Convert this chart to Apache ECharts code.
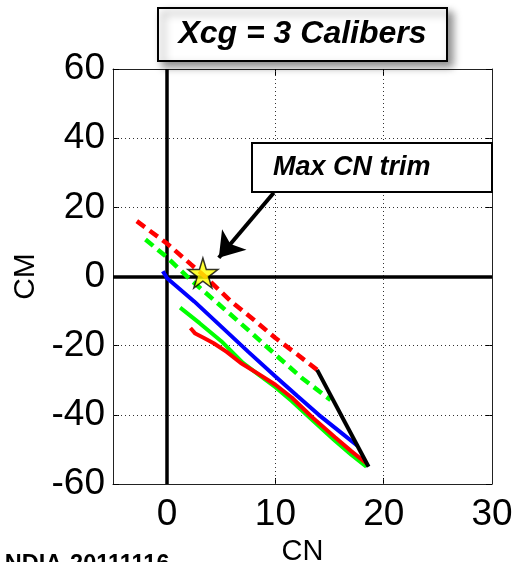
<!DOCTYPE html>
<html>
<head>
<meta charset="utf-8">
<script src="https://cdn.jsdelivr.net/npm/echarts@6/dist/echarts.min.js"></script>
<style>
  html, body { margin: 0; padding: 0; background: #fff; }
  #chart { width: 514px; height: 562px; }
</style>
</head>
<body>
<div id="chart"></div>
<script>
// CM vs CN curves, values as [CN, CM]
var redDashed = [[-2.8, 16], [0, 9.5], [2.2, 3.5], [3.5, 0], [5.9, -7.2], [8, -12.5], [10, -17.8], [12, -22.5], [13.85, -27]];
var greenDashed = [[-2, 10.7], [0, 5.5], [2.15, -0.9], [4.8, -8.1], [7.5, -15.5], [10, -22.6], [12.5, -29.5], [15.1, -35.7]];
var blueSolid = [[-0.4, 1.5], [0, -0.5], [2.5, -7.2], [5, -14.5], [7.5, -21.8], [10, -28.9], [12, -34.5], [14, -40], [16, -45], [17.6, -49]];
var greenSolid = [[1.2, -9], [3, -13.5], [5, -18.7], [7, -25], [8.5, -28.5], [10, -32], [11.5, -36], [13.5, -41.8], [15.5, -47.5], [17, -51.5], [18.4, -55]];
var redSolid = [[2.15, -14.9], [2.6, -16.5], [3.4, -17.8], [4.3, -19.3], [5.5, -21.8], [6.8, -25], [8.5, -28.3], [10, -31.3], [11.5, -35], [13.5, -41], [15.5, -46.5], [17, -50.5], [18.4, -54]];
var blackLine = [[13.85, -27], [18.6, -55]];
var trimPoint = [[3.3, 1.0]];
var arrowFrom = [9.85, 24.2];
var arrowTo = [4.77, 5.4];

var xTicks = [0, 10, 20, 30];
var yTicks = [-60, -40, -20, 0, 20, 40, 60];
var xGrid = [10, 20];
var yGrid = [-40, -20, 20, 40];

var titleText = 'Xcg = 3 Calibers';
var noteText = 'Max CN trim';
var footText = '-NDIA-20111116';

var font = 'Liberation Sans';
var star = 'path://M50,0 L61,35 L98,35 L68,57 L79,91 L50,70 L21,91 L32,57 L2,35 L39,35 Z';

var chart = echarts.init(document.getElementById('chart'));

var gridLines = [];
xGrid.forEach(function (v) { gridLines.push({ xAxis: v }); });
yGrid.forEach(function (v) { gridLines.push({ yAxis: v }); });

function curve(data, color, dashed) {
    return {
        type: 'line',
        data: data,
        showSymbol: false,
        symbol: 'none',
        smooth: false,
        z: 5,
        lineStyle: {
            color: color,
            width: dashed ? 4.5 : 4,
            type: dashed ? [10, 6] : 'solid',
            cap: 'butt'
        }
    };
}

chart.setOption({
    animation: false,
    grid: { left: 113, right: 22, top: 69, bottom: 78, outerBoundsMode: 'none', containLabel: false },
    xAxis: [{
        type: 'value',
        min: -5,
        max: 30,
        interval: 5,
        name: 'CN',
        nameLocation: 'middle',
        nameGap: 52,
        nameTextStyle: { fontFamily: font, fontSize: 29, color: '#000' },
        axisLine: { show: true, onZero: false, lineStyle: { color: '#222', width: 1 } },
        axisTick: { show: true, inside: true, length: 6, customValues: [0, 10, 20], lineStyle: { color: '#000' } },
        axisLabel: { customValues: xTicks, fontFamily: font, fontSize: 37, color: '#000', margin: 12 },
        splitLine: { show: false }
    }, {
        type: 'value',
        position: 'top',
        min: -5,
        max: 30,
        interval: 5,
        axisLine: { show: true, onZero: false, lineStyle: { color: '#222', width: 1 } },
        axisTick: { show: true, inside: true, length: 6, customValues: [0, 10, 20], lineStyle: { color: '#000' } },
        axisLabel: { show: false },
        splitLine: { show: false }
    }],
    yAxis: [{
        type: 'value',
        min: -60,
        max: 60,
        interval: 20,
        name: 'CM',
        nameLocation: 'middle',
        nameGap: 68,
        nameTextStyle: { fontFamily: font, fontSize: 30, color: '#000' },
        axisLine: { show: true, onZero: false, lineStyle: { color: '#222', width: 1 } },
        axisTick: { show: true, inside: true, length: 6, lineStyle: { color: '#000' } },
        axisLabel: { fontFamily: font, fontSize: 37, color: '#000', margin: 8 },
        splitLine: { show: false }
    }, {
        type: 'value',
        position: 'right',
        min: -60,
        max: 60,
        interval: 20,
        axisLine: { show: true, onZero: false, lineStyle: { color: '#222', width: 1 } },
        axisTick: { show: true, inside: true, length: 6, lineStyle: { color: '#000' } },
        axisLabel: { show: false },
        splitLine: { show: false }
    }],
    series: [
        {
            // dotted grid and the thick zero lines
            type: 'line',
            data: [],
            z: 1,
            markLine: {
                silent: true,
                symbol: ['none', 'none'],
                label: { show: false },
                lineStyle: { color: '#333', width: 1, type: [1, 3] },
                data: gridLines.concat([
                    { xAxis: 0, lineStyle: { color: '#000', width: 3.5, type: 'solid' } },
                    { yAxis: 0, lineStyle: { color: '#000', width: 3.5, type: 'solid' } }
                ])
            }
        },
        curve(redDashed, '#ff0000', true),
        curve(greenDashed, '#00ff00', true),
        curve(greenSolid, '#00ff00', false),
        curve(redSolid, '#ff0000', false),
        curve(blueSolid, '#0000ff', false),
        curve(blackLine, '#000000', false),
        {
            type: 'scatter',
            data: trimPoint,
            symbol: star,
            symbolSize: 30,
            z: 8,
            itemStyle: { color: '#ffff00', borderColor: '#000', borderWidth: 1.5 }
        },
        {
            type: 'line',
            data: [],
            z: 9,
            markLine: {
                silent: true,
                symbol: ['none', 'arrow'],
                symbolSize: 24,
                label: { show: false },
                lineStyle: { color: '#000', width: 4, type: 'solid' },
                data: [[{ coord: arrowFrom }, { coord: arrowTo }]]
            }
        }
    ],
    graphic: [
        {
            type: 'rect',
            shape: { x: 158, y: 8, width: 289, height: 53 },
            style: {
                fill: '#fff', stroke: '#000', lineWidth: 2,
                shadowBlur: 8, shadowColor: 'rgba(0,0,0,0.45)', shadowOffsetX: 5, shadowOffsetY: 5
            },
            z: 10
        },
        {
            type: 'text',
            x: 302.5,
            y: 34.5,
            style: {
                text: titleText, fill: '#000',
                font: 'italic bold 32px "Liberation Sans"',
                textAlign: 'center', textVerticalAlign: 'middle'
            },
            z: 11
        },
        {
            type: 'rect',
            shape: { x: 252, y: 143, width: 240, height: 49 },
            style: { fill: '#fff', stroke: '#000', lineWidth: 2 },
            z: 10
        },
        {
            type: 'text',
            x: 273,
            y: 167.5,
            style: {
                text: noteText, fill: '#000',
                font: 'italic bold 27px "Liberation Sans"',
                textAlign: 'left', textVerticalAlign: 'middle'
            },
            z: 11
        },
        {
            type: 'text',
            x: -3,
            y: 565,
            style: {
                text: footText, fill: '#000',
                font: 'bold 23.5px "Liberation Sans"',
                textAlign: 'left', textVerticalAlign: 'middle'
            },
            z: 11
        }
    ]
});
</script>
</body>
</html>
